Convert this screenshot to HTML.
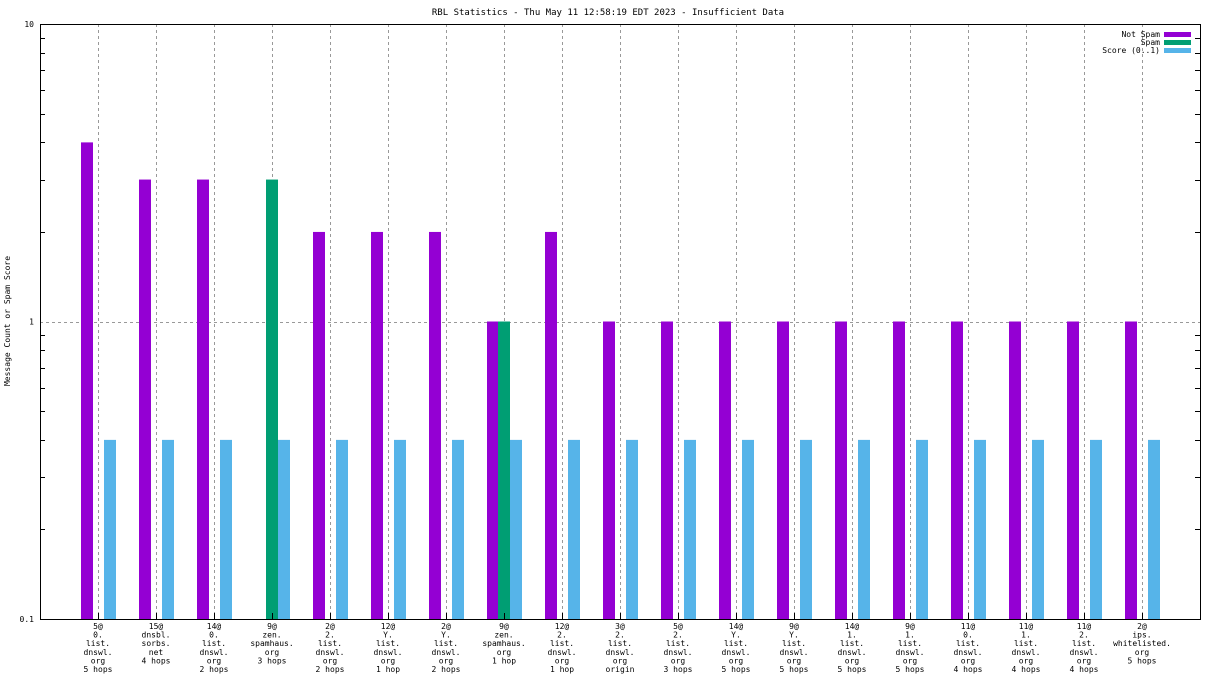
<!DOCTYPE html>
<html><head><meta charset="utf-8"><style>
html,body{margin:0;padding:0;background:#fff;}
svg{display:block;font-family:"DejaVu Sans Mono","Liberation Mono",monospace;}
</style></head><body>
<svg id="chart" width="1216" height="684" xmlns="http://www.w3.org/2000/svg">
<text x="608" y="15" font-size="9" text-anchor="middle">RBL Statistics - Thu May 11 12:58:19 EDT 2023 - Insufficient Data</text>
<text transform="translate(10,321) rotate(-90)" font-size="8" text-anchor="middle">Message Count or Spam Score</text>
<g id="grid"></g><g id="bars"></g><g id="axes"></g>
<rect x="40.5" y="24.5" width="1160" height="595" fill="none" stroke="#000" stroke-width="1"/>
<g font-size="8">
<text x="1160" y="37" text-anchor="end">Not Spam</text>
<rect x="1164" y="32" width="27" height="5" fill="#9400d3"/>
<text x="1160" y="45" text-anchor="end">Spam</text>
<rect x="1164" y="40" width="27" height="5" fill="#009e73"/>
<text x="1160" y="53" text-anchor="end">Score (0..1)</text>
<rect x="1164" y="48" width="27" height="5" fill="#56b4e9"/>
</g>
</svg>
<script>
const categories=[["5@","0.","list.","dnswl.","org","5 hops"],["15@","dnsbl.","sorbs.","net","4 hops"],["14@","0.","list.","dnswl.","org","2 hops"],["9@","zen.","spamhaus.","org","3 hops"],["2@","2.","list.","dnswl.","org","2 hops"],["12@","Y.","list.","dnswl.","org","1 hop"],["2@","Y.","list.","dnswl.","org","2 hops"],["9@","zen.","spamhaus.","org","1 hop"],["12@","2.","list.","dnswl.","org","1 hop"],["3@","2.","list.","dnswl.","org","origin"],["5@","2.","list.","dnswl.","org","3 hops"],["14@","Y.","list.","dnswl.","org","5 hops"],["9@","Y.","list.","dnswl.","org","5 hops"],["14@","1.","list.","dnswl.","org","5 hops"],["9@","1.","list.","dnswl.","org","5 hops"],["11@","0.","list.","dnswl.","org","4 hops"],["11@","1.","list.","dnswl.","org","4 hops"],["11@","2.","list.","dnswl.","org","4 hops"],["2@","ips.","whitelisted.","org","5 hops"]];
const notSpam=[4,3,3,0,2,2,2,1,2,1,1,1,1,1,1,1,1,1,1];
const spam=[0,0,0,3,0,0,0,1,0,0,0,0,0,0,0,0,0,0,0];
const score=[0.4,0.4,0.4,0.4,0.4,0.4,0.4,0.4,0.4,0.4,0.4,0.4,0.4,0.4,0.4,0.4,0.4,0.4,0.4];
const yTicks=[0.1,1,10];
const yTickLabels=["0.1","1","10"];
const NS="http://www.w3.org/2000/svg";
const L=40,R=1200,T=24,B=619,ymin=0.1,ymax=10;
const y=v=>B-(Math.log10(v)-Math.log10(ymin))/(Math.log10(ymax)-Math.log10(ymin))*(B-T);
const x=i=>98+i*58;
function mk(tag,attrs,parent){const e=document.createElementNS(NS,tag);for(const k in attrs)e.setAttribute(k,attrs[k]);parent.appendChild(e);return e;}
const grid=document.getElementById('grid'),bars=document.getElementById('bars'),axes=document.getElementById('axes');
categories.forEach((c,i)=>{
  const g=mk('line',{x1:x(i)+.5,x2:x(i)+.5,y1:T,y2:B,stroke:'#999','stroke-dasharray':'3,3'},grid);
  
  
  const tk=mk('line',{x1:x(i)+.5,x2:x(i)+.5,y1:B-6,y2:B,stroke:'#000'},axes);
  
  
  const t=mk('text',{x:x(i),y:B+10,'font-size':8,'text-anchor':'middle'},axes);
  
  
  c.forEach((ln,j)=>{const s=mk('tspan',{x:x(i),dy:j?8.6:0},t);s.textContent=ln;});
  const pairs=[[notSpam[i],-17,'#9400d3','bar-not-spam'],[spam[i],-6,'#009e73','bar-spam'],[score[i],6,'#56b4e9','bar-score']];
  pairs.forEach(p=>{if(p[0]>ymin){const r=mk('rect',{x:x(i)+p[1],y:y(p[0]),width:12,height:B-y(p[0]),fill:p[2]},bars);
    
    }});
});
yTicks.forEach((v,k)=>{
  if(v>ymin&&v<ymax){const g=mk('line',{x1:L,x2:R,y1:Math.round(y(v))+.5,y2:Math.round(y(v))+.5,stroke:'#999','stroke-dasharray':'3,3'},grid);
    
    }
  const t=mk('text',{x:L-6,y:y(v)+3,'font-size':8,'text-anchor':'end'},axes);
  
  
  t.textContent=yTickLabels[k];
  if(k<yTicks.length-1){for(let m=2;m<=9;m++){const yy=Math.round(y(v*m))+.5;
    const a=mk('line',{x1:L,x2:L+5,y1:yy,y2:yy,stroke:'#000'},axes);
    
    
    const b=mk('line',{x1:R-5,x2:R,y1:yy,y2:yy,stroke:'#000'},axes);
    
    }}
});
</script>
</body></html>
